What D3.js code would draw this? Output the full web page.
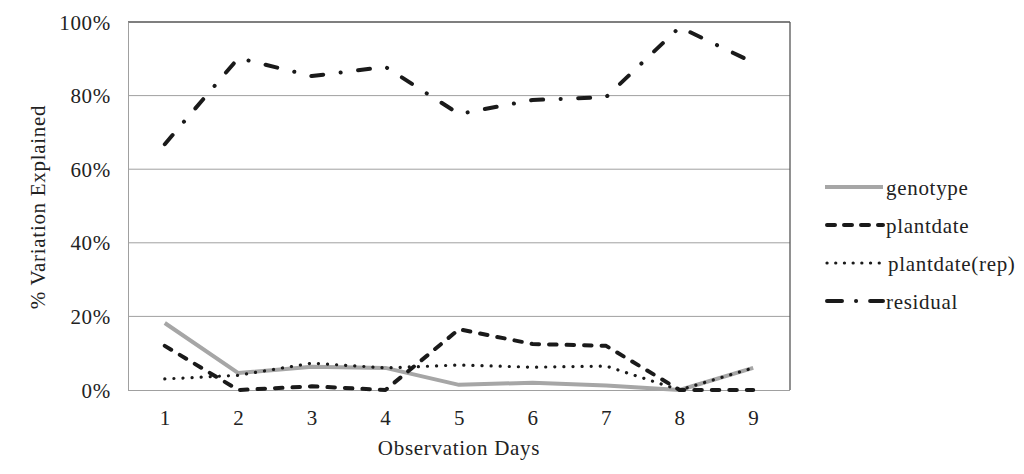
<!DOCTYPE html>
<html><head><meta charset="utf-8">
<script src="https://cdn.jsdelivr.net/npm/d3@7/dist/d3.min.js"></script>
<style>body{margin:0;background:#fff}svg{display:block}svg text{font-family:"Liberation Serif","Times New Roman",serif;font-size:21px;letter-spacing:0.7px;fill:#222}</style>
</head><body><svg id="c" width="1024" height="474"></svg>
<script>
const days = ["1","2","3","4","5","6","7","8","9"];
const yTicks = [0,0.2,0.4,0.6,0.8,1.0];
const genotype = [0.182,0.046,0.063,0.060,0.014,0.020,0.012,0.000,0.060];
const plantdate = [0.120,0.000,0.010,0.000,0.165,0.125,0.120,0.000,0.000];
const plantdateRep = [0.030,0.040,0.073,0.060,0.068,0.062,0.065,0.000,0.060];
const residual = [0.668,0.902,0.853,0.878,0.750,0.788,0.796,0.986,0.890];
const seriesNames = ["genotype","plantdate","plantdate(rep)","residual"];

const svg = d3.select("#c");
const L=128,R=790,T=22,B=390;
const x = d3.scalePoint().domain(days).range([L,R]).padding(0.5);
const y = d3.scaleLinear().domain([0,1]).range([B,T]);

svg.append("g").selectAll("line").data(yTicks.filter(d=>d>0 && d<1)).join("line")
  .attr("x1",L).attr("x2",R).attr("y1",d=>y(d)).attr("y2",d=>y(d))
  .attr("stroke","#a0a0a0").attr("stroke-width",1);
svg.append("line").attr("x1",L).attr("x2",R).attr("y1",T).attr("y2",T).attr("stroke","#555").attr("stroke-width",1.3);
svg.append("line").attr("x1",R).attr("x2",R).attr("y1",T).attr("y2",B).attr("stroke","#555").attr("stroke-width",1.3);

const ya = svg.append("g").attr("transform",`translate(${L},0)`)
  .call(d3.axisLeft(y).tickValues(yTicks).tickFormat(d3.format(".0%")).tickSize(0).tickPadding(17));
ya.attr("font-family",null).attr("font-size",null);
ya.select(".domain").attr("stroke","#a0a0a0");
ya.selectAll("text").attr("fill","#222").attr("dy","0.34em");
const xa = svg.append("g").attr("transform",`translate(0,${B})`)
  .call(d3.axisBottom(x).tickSize(0).tickPadding(20));
xa.attr("font-family",null).attr("font-size",null);
xa.select(".domain").attr("stroke","#a0a0a0").attr("d",`M${L},0.5H${R}`);
xa.selectAll("text").attr("fill","#222");

svg.append("text").attr("x",459).attr("y",455).attr("text-anchor","middle").text("Observation Days");
svg.append("text").attr("transform","translate(45,207) rotate(-90)").attr("text-anchor","middle").text("% Variation Explained");

const styles = [
  {color:"#a6a6a6",w:4,dash:null,cap:"butt"},
  {color:"#1a1a1a",w:4,dash:"7.5,10",cap:"round"},
  {color:"#1a1a1a",w:3.2,dash:"0.1,9",cap:"round"},
  {color:"#1a1a1a",w:4,dash:"12,17.5,0.1,17.5",cap:"round"}
];
const data = [genotype,plantdate,plantdateRep,residual];
const line = d3.line().x((d,i)=>x(days[i])).y(d=>y(d));
svg.append("g").selectAll("path").data(data).join("path")
  .attr("d",line).attr("fill","none")
  .attr("stroke",(d,i)=>styles[i].color).attr("stroke-width",(d,i)=>styles[i].w)
  .attr("stroke-dasharray",(d,i)=>styles[i].dash).attr("stroke-linecap",(d,i)=>styles[i].cap)
  .attr("stroke-linejoin","round");

const legDash = [null,"8,9","0.1,8.6","15,14,0.1,14,15"];
const lg = svg.append("g").selectAll("g").data(seriesNames).join("g")
  .attr("transform",(d,i)=>`translate(0,${187+i*38})`);
lg.append("line").attr("x1",(d,i)=>i===0?825:827).attr("x2",(d,i)=>i===0?883:883).attr("y1",0).attr("y2",0)
  .attr("stroke",(d,i)=>styles[i].color).attr("stroke-width",(d,i)=>styles[i].w)
  .attr("stroke-dasharray",(d,i)=>legDash[i])
  .attr("stroke-linecap",(d,i)=>styles[i].cap);
lg.append("text").attr("x",(d,i)=>i===2?888:886).attr("y",8).text(d=>d);
</script></body></html>
